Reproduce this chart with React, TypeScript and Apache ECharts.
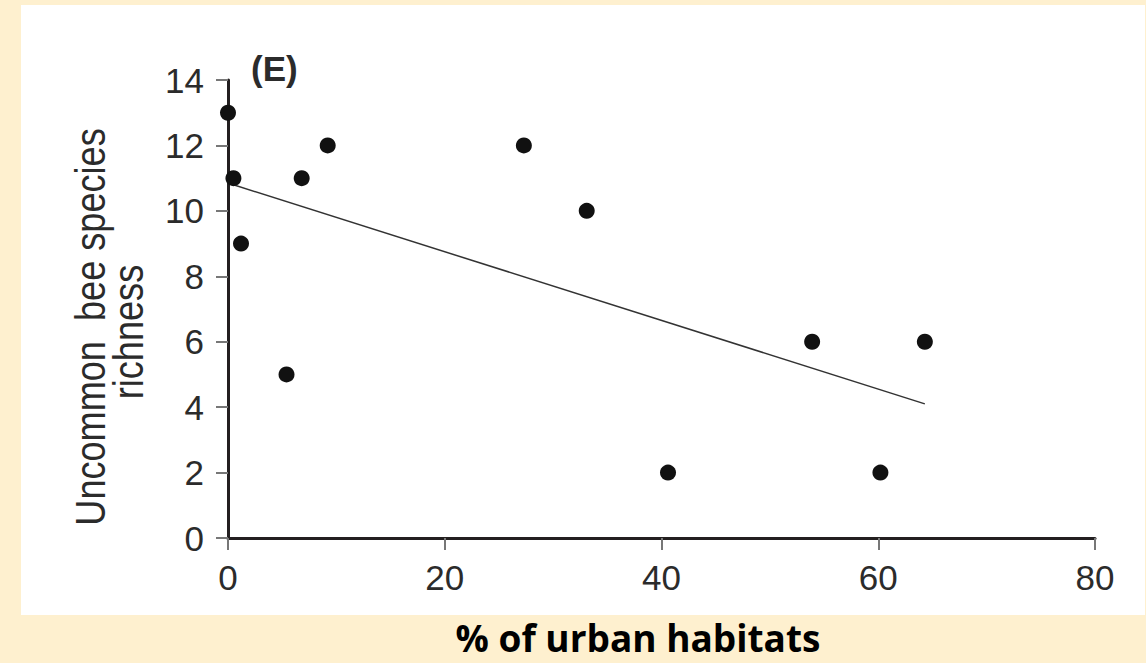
import React, { useEffect, useRef } from "react";
import * as echarts from "echarts";

const urbanPct: number[] = [0, 0.5, 1.2, 5.4, 6.8, 9.2, 27.3, 33.1, 40.6, 53.9, 60.2, 64.3];
const richness: number[] = [13, 11, 9, 5, 11, 12, 12, 10, 2, 6, 2, 6];
const fitX: number[] = [0, 64.3];
const fitY: number[] = [10.85, 4.1];
const xTicks: number[] = [0, 20, 40, 60, 80];
const yTicks: number[] = [0, 2, 4, 6, 8, 10, 12, 14];
const yNameLines: string[] = ["Uncommon  bee species", "richness"];

export default function App() {
  const ref = useRef<HTMLDivElement>(null);
  useEffect(() => {
    if (!ref.current) return;
    const chart = echarts.init(ref.current, null, { renderer: "svg" });
    const axisColor = "#231f20";
    const labelColor = "#2b2b2b";
    const nameStyle = {
      fontFamily: "Liberation Sans",
      fontSize: 42,
      fill: labelColor,
      align: "center",
      verticalAlign: "middle",
    };
    chart.setOption({
      animation: false,
      backgroundColor: "#FEF0CF",
      graphic: [
        {
          type: "rect",
          z: -10,
          shape: { x: 21, y: 5, width: 1124, height: 610 },
          style: { fill: "#ffffff" },
        },
        {
          type: "text",
          x: 251,
          y: 68,
          style: {
            text: "(E)",
            fontFamily: "Liberation Sans",
            fontWeight: "bold",
            fontSize: 35,
            fill: labelColor,
            verticalAlign: "middle",
          },
        },
        {
          type: "text",
          x: 91,
          y: 327,
          rotation: Math.PI / 2,
          scaleX: 0.86,
          style: { ...nameStyle, text: yNameLines[0] },
        },
        {
          type: "text",
          x: 129,
          y: 332,
          rotation: Math.PI / 2,
          scaleX: 0.86,
          style: { ...nameStyle, text: yNameLines[1] },
        },
        {
          type: "text",
          x: 638,
          y: 637,
          style: {
            text: "% of urban habitats",
            fontFamily: "Open Sans",
            fontWeight: "bold",
            fontSize: 37,
            lineHeight: 38,
            fill: "#000000",
            align: "center",
            verticalAlign: "middle",
          },
        },
      ],
      grid: { left: 228, right: 1146 - 1095, top: 80, bottom: 663 - 538, containLabel: false },
      xAxis: {
        type: "value",
        min: xTicks[0],
        max: xTicks[xTicks.length - 1],
        interval: 20,
        splitLine: { show: false },
        axisLine: { show: true, onZero: false, lineStyle: { color: axisColor, width: 3 } },
        axisTick: { show: true, length: 12, lineStyle: { color: "#777", width: 2 } },
        axisLabel: {
          margin: 22,
          fontFamily: "Liberation Sans",
          fontSize: 35,
          color: labelColor,
        },
      },
      yAxis: {
        type: "value",
        min: yTicks[0],
        max: yTicks[yTicks.length - 1],
        interval: 2,
        splitLine: { show: false },
        axisLine: { show: true, onZero: false, lineStyle: { color: axisColor, width: 3 } },
        axisTick: { show: true, length: 12, lineStyle: { color: "#777", width: 2 } },
        axisLabel: {
          margin: 24,
          fontFamily: "Liberation Sans",
          fontSize: 35,
          color: labelColor,
        },
      },
      series: [
        {
          type: "line",
          data: fitX.map((x, i) => [x, fitY[i]]),
          symbol: "none",
          lineStyle: { color: "#333", width: 1.5 },
          z: 2,
        },
        {
          type: "scatter",
          data: urbanPct.map((x, i) => [x, richness[i]]),
          symbolSize: 16,
          itemStyle: { color: "#111", opacity: 1 },
          z: 3,
        },
      ],
    });
    return () => chart.dispose();
  }, []);
  return (
    <div
      ref={ref}
      style={{ position: "fixed", left: 0, top: 0, width: 1146, height: 663 }}
    />
  );
}
